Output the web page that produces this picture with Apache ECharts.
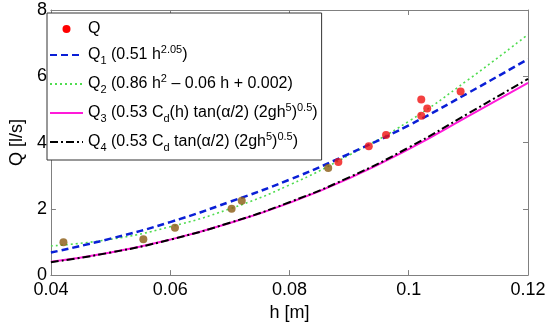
<!DOCTYPE html>
<html>
<head>
<meta charset="utf-8">
<script src="https://cdn.jsdelivr.net/npm/echarts@6/dist/echarts.min.js"></script>
<style>html,body{margin:0;padding:0;background:#fff}#c{width:550px;height:327px}</style>
</head>
<body>
<div id="c"></div>
<script>
// Observed discharge points
const hObs = [0.0421, 0.0555, 0.0608, 0.0703, 0.0720, 0.0865, 0.0882, 0.0933, 0.0962, 0.1021, 0.1031, 0.1021, 0.1087];
const qObs = [0.99, 1.08, 1.43, 2.00, 2.24, 3.23, 3.41, 3.89, 4.23, 5.30, 5.03, 4.81, 5.54];
// Fitted curves
const hGrid = [0.04, 0.05, 0.06, 0.07, 0.08, 0.09, 0.10, 0.11, 0.12];
const q1 = [0.68, 1.10, 1.60, 2.21, 2.88, 3.66, 4.52, 5.50, 6.52];
const q2 = [0.88, 1.08, 1.46, 2.00, 2.72, 3.62, 4.64, 5.90, 7.26];
const q3 = [0.40, 0.68, 1.07, 1.57, 2.18, 2.92, 3.80, 4.80, 5.80];
const q4 = [0.39, 0.68, 1.07, 1.58, 2.20, 2.95, 3.85, 4.88, 5.92];
const xTicks = [0.04, 0.06, 0.08, 0.1, 0.12];
const yTicks = [0, 2, 4, 6, 8];

const FONT = 'Liberation Sans';
const AX = '#808080';
const pair = (xs, ys) => xs.map((x, i) => [x, ys[i]]);

const legendText = {
  'Q': '{q|Q}',
  'Q1': '{m|Q}{sub|1}{m| (0.51 h}{sup|2.05}{m|)}',
  'Q2': '{m|Q}{sub|2}{m| (0.86 h}{sup|2}{m| \u2013 0.06 h + 0.002)}',
  'Q3': '{m|Q}{sub|3}{m| (0.53 C}{sub|d}{m|(h) tan(\u03b1/2) (2gh}{sup|5}{m|)}{sup|0.5}{m|)}',
  'Q4': '{m|Q}{sub|4}{m| (0.53 C}{sub|d}{m| tan(\u03b1/2) (2gh}{sup|5}{m|)}{sup|0.5}{m|)}'
};

const chart = echarts.init(document.getElementById('c'), null, {renderer: 'canvas'});
chart.setOption({
  animation: false,
  backgroundColor: '#fff',
  textStyle: {fontFamily: FONT},
  grid: {left: 42, right: 22, top: 10, bottom: 48, containLabel: false},
  legend: {
    orient: 'vertical',
    left: 47, top: 13,
    padding: [8, 4, 7, 2],
    itemGap: 7,
    itemWidth: 33,
    itemHeight: 8,
    backgroundColor: '#fff',
    borderColor: '#333',
    borderWidth: 1,
    borderRadius: 0,
    itemStyle: {color: 'rgba(0,0,0,0)', borderWidth: 0, opacity: 0},
    data: [{name: 'Q', icon: 'circle', itemStyle: {color: '#ff0000', opacity: 1}}, 'Q1', 'Q2', 'Q3', 'Q4'],
    formatter: n => legendText[n],
    textStyle: {
      fontFamily: FONT, fontSize: 16, color: '#000',
      rich: {
        q: {fontFamily: FONT, fontSize: 16, lineHeight: 17, color: '#000'},
        m: {fontFamily: FONT, fontSize: 16, lineHeight: 22, color: '#000'},
        sub: {fontFamily: FONT, fontSize: 11, lineHeight: 10, verticalAlign: 'bottom', color: '#000'},
        sup: {fontFamily: FONT, fontSize: 11, lineHeight: 10, verticalAlign: 'top', color: '#000'}
      }
    }
  },
  xAxis: [{
    type: 'value', min: 0.04, max: 0.12, interval: 0.02,
    name: 'h [m]', nameLocation: 'middle', nameGap: 21,
    nameTextStyle: {fontFamily: FONT, fontSize: 18, color: '#000'},
    axisLine: {show: true, onZero: false, lineStyle: {color: AX}},
    axisTick: {show: true, inside: true, length: 5, lineStyle: {color: AX}},
    axisLabel: {fontFamily: FONT, fontSize: 18, color: '#000', margin: 6,
      formatter: v => String(+v.toFixed(2))},
    splitLine: {show: false}
  }, {
    type: 'value', position: 'top', min: 0.04, max: 0.12, interval: 0.02,
    axisLine: {show: true, onZero: false, lineStyle: {color: AX}},
    axisTick: {show: true, inside: true, length: 5, lineStyle: {color: AX}},
    axisLabel: {show: false}, splitLine: {show: false}
  }],
  yAxis: [{
    type: 'value', min: 0, max: 8, interval: 2,
    name: 'Q [l/s]', nameLocation: 'middle', nameGap: 18,
    nameTextStyle: {fontFamily: FONT, fontSize: 18, color: '#000'},
    axisLine: {show: true, onZero: false, lineStyle: {color: AX}},
    axisTick: {show: true, inside: true, length: 5, lineStyle: {color: AX}},
    axisLabel: {fontFamily: FONT, fontSize: 18, color: '#000', margin: 4},
    splitLine: {show: false}
  }, {
    type: 'value', position: 'right', min: 0, max: 8, interval: 2,
    axisLine: {show: true, onZero: false, lineStyle: {color: AX}},
    axisTick: {show: true, inside: true, length: 5, lineStyle: {color: AX}},
    axisLabel: {show: false}, splitLine: {show: false}
  }],
  series: [
    {name: 'Q2', type: 'line', data: pair(hGrid, q2), smooth: true, symbol: 'none', z: 2,
      lineStyle: {color: '#4fdc4f', width: 1.6, type: [2, 3]}, itemStyle: {color: '#4fdc4f'}},
    {name: 'Q1', type: 'line', data: pair(hGrid, q1), smooth: true, symbol: 'none', z: 3,
      lineStyle: {color: '#0a1fd6', width: 2.5, type: [7, 4]}, itemStyle: {color: '#0a1fd6'}},
    {name: 'Q3', type: 'line', data: pair(hGrid, q3), smooth: true, symbol: 'none', z: 3,
      lineStyle: {color: '#ff1ad9', width: 2, type: 'solid'}, itemStyle: {color: '#ff1ad9'}},
    {name: 'Q4', type: 'line', data: pair(hGrid, q4), smooth: true, symbol: 'none', z: 4,
      lineStyle: {color: '#000', width: 2, type: [8, 3, 2, 3]}, itemStyle: {color: '#000'}},
    {name: 'Q', type: 'scatter', data: pair(hObs, qObs), symbol: 'circle', symbolSize: 8, z: 5,
      itemStyle: {color: p => (p.dataIndex < 6 ? '#8a5a12' : '#f01010')}}
  ]
});
</script>
</body>
</html>
